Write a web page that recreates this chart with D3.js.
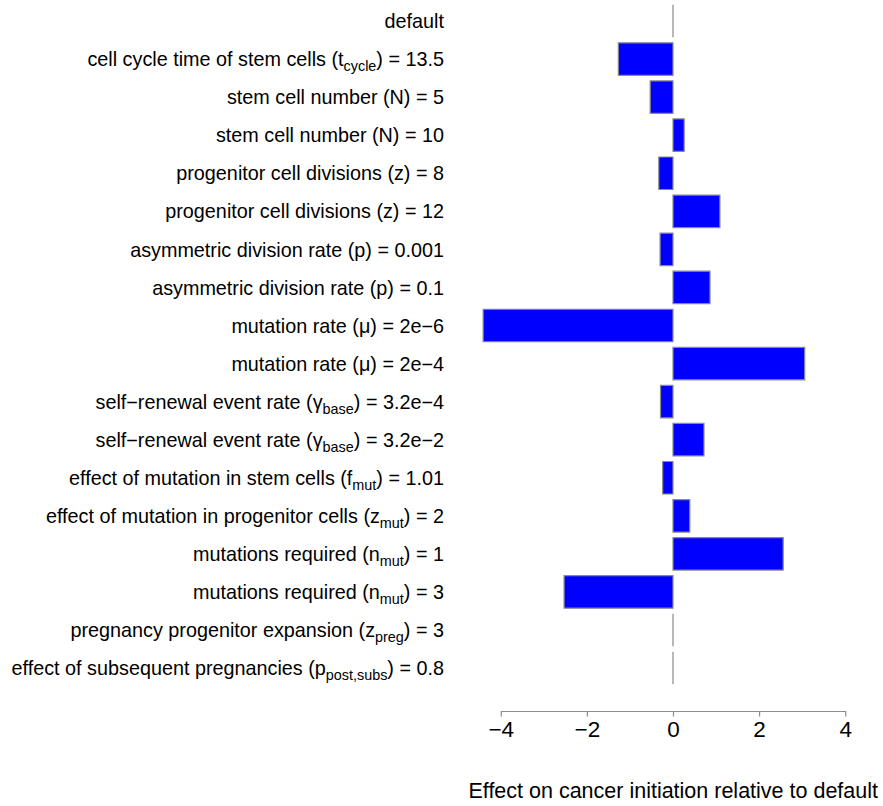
<!DOCTYPE html>
<html>
<head>
<meta charset="utf-8">
<script src="https://cdn.jsdelivr.net/npm/d3@7"></script>
<style>
  html, body { margin: 0; padding: 0; background: #fff; }
  svg { display: block; font-family: "Liberation Sans", Arial, Helvetica, sans-serif; }
</style>
</head>
<body>
<svg id="chart" width="883" height="806"></svg>
<script>
// Parameter settings (subscripts marked with _{...})
const categories = [
  "default",
  "cell cycle time of stem cells (t_{cycle}) = 13.5",
  "stem cell number (N) = 5",
  "stem cell number (N) = 10",
  "progenitor cell divisions (z) = 8",
  "progenitor cell divisions (z) = 12",
  "asymmetric division rate (p) = 0.001",
  "asymmetric division rate (p) = 0.1",
  "mutation rate (μ) = 2e−6",
  "mutation rate (μ) = 2e−4",
  "self−renewal event rate (γ_{base}) = 3.2e−4",
  "self−renewal event rate (γ_{base}) = 3.2e−2",
  "effect of mutation in stem cells (f_{mut}) = 1.01",
  "effect of mutation in progenitor cells (z_{mut}) = 2",
  "mutations required (n_{mut}) = 1",
  "mutations required (n_{mut}) = 3",
  "pregnancy progenitor expansion (z_{preg}) = 3",
  "effect of subsequent pregnancies (p_{post,subs}) = 0.8"
];

// Effect on cancer initiation relative to default
const effects = [
  0, -1.27, -0.53, 0.26, -0.33, 1.09, -0.30, 0.86,
  -4.41, 3.06, -0.29, 0.72, -0.24, 0.39, 2.56, -2.53, 0, 0
];

const xTicks = [-4, -2, 0, 2, 4];
const xTitle = "Effect on cancer initiation relative to default";

const svg = d3.select("#chart");

const x = d3.scaleLinear().domain([-4, 4]).range([500.8, 845.2]);
const y = d3.scaleBand()
  .domain(d3.range(categories.length))
  .range([2, 2 + 38.06 * categories.length])
  .paddingInner(0.146)
  .paddingOuter(0.073);

const rows = categories.map((c, i) => ({ label: c, value: effects[i], i }));

// Bars drawn as closed paths so zero-width bars still show their outline
svg.append("g")
  .selectAll("path")
  .data(rows)
  .join("path")
  .attr("d", d => {
    const x0 = x(0), x1 = x(d.value);
    const y0 = y(d.i), y1 = y(d.i) + y.bandwidth();
    return `M${x0},${y0}H${x1}V${y1}H${x0}Z`;
  })
  .attr("fill", "#0000ff")
  .attr("stroke", "#8a8a8a")
  .attr("stroke-width", 1.2);

// Row labels with subscript support
const labels = svg.append("g")
  .attr("font-size", 19.8)
  .attr("fill", "#000")
  .attr("text-anchor", "end")
  .selectAll("text")
  .data(rows)
  .join("text")
  .attr("x", 444)
  .attr("y", d => y(d.i) + y.bandwidth() / 2)
  .attr("dy", "0.36em");

labels.each(function(d) {
  const t = d3.select(this);
  const parts = d.label.split(/(_\{[^}]*\})/).filter(s => s.length);
  let shifted = false;
  parts.forEach(p => {
    if (p.startsWith("_{")) {
      t.append("tspan")
        .attr("font-size", 14.4)
        .attr("dy", 5)
        .text(p.slice(2, -1));
      shifted = true;
    } else {
      const s = t.append("tspan").text(p);
      if (shifted) { s.attr("dy", -5); shifted = false; }
    }
  });
});

// Bottom axis
const axisY = 711;
const axis = d3.axisBottom(x)
  .tickValues(xTicks)
  .tickSize(5.5)
  .tickSizeOuter(0)
  .tickPadding(5)
  .tickFormat(d => d < 0 ? "−" + Math.abs(d) : String(d));

const gAxis = svg.append("g")
  .attr("transform", `translate(0,${axisY})`)
  .call(axis);

gAxis.select(".domain").attr("stroke", "#8c8c8c").attr("stroke-width", 1.2);
gAxis.selectAll(".tick line").attr("stroke", "#8c8c8c").attr("stroke-width", 1.2);
gAxis.selectAll(".tick text")
  .attr("font-size", 22.5)
  .attr("font-family", "Liberation Sans, Arial, sans-serif")
  .attr("fill", "#000");

// Axis title
svg.append("text")
  .attr("x", 878)
  .attr("y", 798)
  .attr("text-anchor", "end")
  .attr("font-size", 21.5)
  .attr("fill", "#000")
  .text(xTitle);
</script>
</body>
</html>
